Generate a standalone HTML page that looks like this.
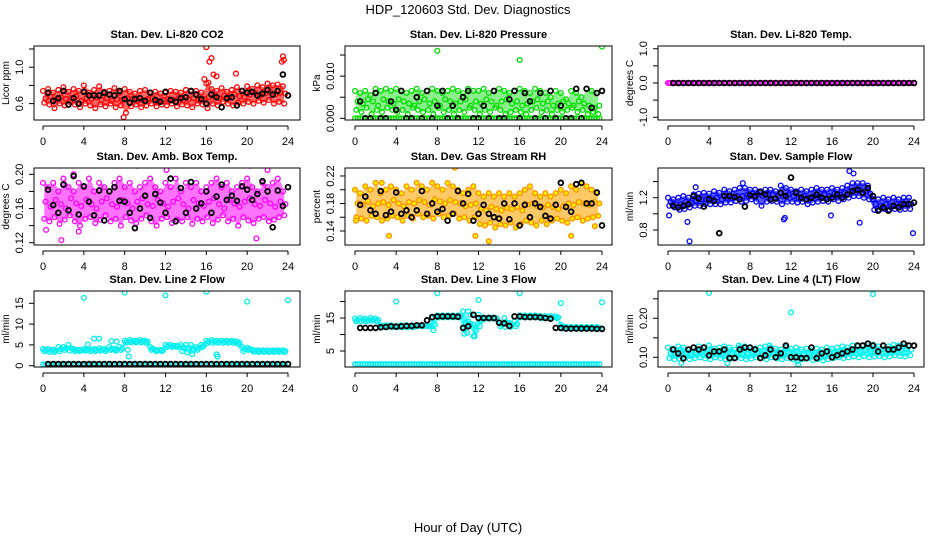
<!DOCTYPE html>
<html><head><meta charset="utf-8"><style>
html,body{margin:0;padding:0;background:#fff;}
svg{display:block;font-family:"Liberation Sans",sans-serif;}
</style></head><body>
<svg id="chart" width="936" height="540" viewBox="0 0 936 540">
<text x="468" y="14" text-anchor="middle" font-size="13">HDP_120603  Std. Dev. Diagnostics</text>
<text x="468" y="532" text-anchor="middle" font-size="13">Hour of Day (UTC)</text>
</svg>
<script>
const xTicks = [0,4,8,12,16,20,24];
const co2Hi = [0.74,0.76,0.72,0.75,0.78,0.73,0.76,0.74,0.80,0.72,0.75,0.79,0.73,0.74,0.77,0.72,0.76,0.73,0.71,0.74,0.75,0.72,0.73,0.71,0.72,0.74,0.73,0.72,0.75,0.73,0.74,0.72,0.82,0.76,0.74,0.77,0.73,0.75,0.78,0.74,0.79,0.76,0.80,0.78,0.82,0.80,0.81,0.79];
const co2Mid = [0.66,0.68,0.64,0.67,0.65,0.66,0.68,0.63,0.66,0.65,0.67,0.64,0.66,0.63,0.65,0.64,0.66,0.65,0.63,0.64,0.65,0.66,0.63,0.64,0.65,0.64,0.66,0.64,0.65,0.66,0.64,0.65,0.67,0.68,0.66,0.69,0.67,0.70,0.68,0.67,0.70,0.72,0.69,0.71,0.73,0.70,0.72,0.71];
const co2Lo = [0.61,0.59,0.55,0.60,0.58,0.62,0.59,0.56,0.60,0.58,0.55,0.59,0.57,0.60,0.56,0.58,0.50,0.57,0.59,0.56,0.58,0.60,0.57,0.59,0.58,0.60,0.57,0.59,0.58,0.56,0.60,0.59,0.55,0.60,0.58,0.62,0.60,0.58,0.61,0.60,0.62,0.60,0.63,0.61,0.64,0.60,0.62,0.60];
const co2OutT = [16,16.3,16.5,16.7,15.8,16.2,18.9,17.0,23.5,23.6,23.4,7.9];
const co2OutV = [1.22,1.06,1.10,0.92,0.87,0.83,0.93,0.90,1.12,1.08,1.06,0.45];
const co2Black = [0.72,0.63,0.66,0.74,0.59,0.66,0.60,0.73,0.69,0.69,0.69,0.72,0.70,0.69,0.74,0.65,0.61,0.65,0.66,0.63,0.72,0.64,0.62,0.73,0.64,0.62,0.66,0.67,0.74,0.70,0.65,0.60,0.70,0.67,0.56,0.66,0.67,0.58,0.74,0.72,0.73,0.69,0.71,0.75,0.70,0.74,0.92,0.69];

const presHi = [0.0065,0.0060,0.0065,0.0055,0.0070,0.0065,0.0070,0.0065,0.0070,0.0065,0.0060,0.0065,0.0070,0.0060,0.0065,0.0070,0.0065,0.0060,0.0065,0.0070,0.0065,0.0060,0.0070,0.0065,0.0065,0.0070,0.0060,0.0065,0.0070,0.0065,0.0060,0.0065,0.0070,0.0065,0.0060,0.0070,0.0065,0.0060,0.0050,0.0065,0.0060,0.0045,0.0065,0.0060,0.0050,0.0070,0.0065,0.0060];
const presMid = [0.0040,0.0035,0.0045,0.0040,0.0030,0.0045,0.0040,0.0035,0.0045,0.0040,0.0035,0.0030,0.0040,0.0045,0.0035,0.0040,0.0030,0.0045,0.0040,0.0035,0.0040,0.0045,0.0030,0.0040,0.0035,0.0045,0.0040,0.0030,0.0040,0.0045,0.0035,0.0040,0.0030,0.0035,0.0040,0.0045,0.0035,0.0040,0.0030,0.0035,0.0040,0.0035,0.0030,0.0040,0.0035,0.0030,0.0025,0.0030];
const presLo = [0.0020,0.0015,0.0025,0.0010,0.0020,0.0015,0.0025,0.0020,0.0015,0.0020,0.0010,0.0025,0.0020,0.0015,0.0020,0.0010,0.0025,0.0015,0.0020,0.0010,0.0020,0.0015,0.0025,0.0020,0.0010,0.0020,0.0015,0.0025,0.0020,0.0010,0.0015,0.0020,0.0015,0.0010,0.0020,0.0025,0.0015,0.0020,0.0010,0.0020,0.0015,0.0020,0.0025,0.0015,0.0020,0.0010,0.0015,0.0010];
const presBase = [0,0,0,0,0,0,0,0,0,0,0,0,0,0,0,0,0,0,0,0,0,0,0,0,0,0,0,0,0,0,0,0,0,0,0,0,0,0,0,0,0,0,0,0,0,0,0,0];
const presOutT = [8,16,24];
const presOutV = [0.0160,0.0138,0.0170];
const presBlack = [0.004,0,0,0.006,0,0,0.004,0.002,0.0065,0,0,0.005,0,0.0065,0,0.003,0.0065,0,0.003,0,0.005,0.0065,0,0,0.003,0,0.0065,0,0,0.0045,0.0065,0,0.006,0.004,0,0.006,0,0.0065,0,0.003,0,0,0.007,0,0.007,0.0025,0.006,0.0065];

const tempVals = [0,0,0,0,0,0,0,0,0,0,0,0,0,0,0,0,0,0,0,0,0,0,0,0,0,0,0,0,0,0,0,0,0,0,0,0,0,0,0,0,0,0,0,0,0,0,0,0];
const tempBlack = [0,0,0,0,0,0,0,0,0,0,0,0,0,0,0,0,0,0,0,0,0,0,0,0,0,0,0,0,0,0,0,0,0,0,0,0,0,0,0,0,0,0,0,0,0,0,0,0];

const ambHi = [0.19,0.185,0.19,0.18,0.195,0.185,0.18,0.19,0.185,0.195,0.18,0.19,0.185,0.18,0.19,0.195,0.185,0.19,0.18,0.185,0.19,0.195,0.185,0.18,0.19,0.185,0.195,0.18,0.19,0.185,0.19,0.18,0.185,0.19,0.195,0.185,0.19,0.18,0.185,0.19,0.195,0.185,0.18,0.19,0.185,0.19,0.195,0.18];
const ambMid = [0.168,0.162,0.17,0.165,0.16,0.172,0.166,0.163,0.17,0.165,0.16,0.168,0.172,0.165,0.162,0.17,0.166,0.16,0.168,0.172,0.165,0.163,0.17,0.166,0.162,0.168,0.172,0.165,0.16,0.17,0.166,0.163,0.168,0.172,0.165,0.16,0.17,0.166,0.162,0.168,0.172,0.165,0.163,0.17,0.166,0.162,0.168,0.165];
const ambLo = [0.148,0.145,0.15,0.142,0.147,0.152,0.145,0.14,0.148,0.15,0.143,0.147,0.152,0.145,0.148,0.14,0.15,0.146,0.143,0.148,0.152,0.145,0.14,0.148,0.15,0.143,0.147,0.145,0.15,0.142,0.148,0.145,0.15,0.143,0.147,0.152,0.145,0.148,0.14,0.15,0.146,0.143,0.148,0.15,0.145,0.147,0.15,0.152];
const ambOutT = [1.8,9.2,20.3,20.9,0.3,3.5,22.0,12.1,3.0];
const ambOutV = [0.123,0.210,0.210,0.125,0.135,0.133,0.205,0.205,0.200];
const ambBlack = [0.182,0.164,0.155,0.188,0.158,0.198,0.153,0.186,0.168,0.152,0.181,0.146,0.18,0.185,0.169,0.168,0.155,0.137,0.16,0.175,0.149,0.177,0.167,0.155,0.195,0.145,0.184,0.155,0.191,0.16,0.166,0.18,0.155,0.174,0.188,0.17,0.175,0.169,0.186,0.182,0.17,0.177,0.192,0.18,0.138,0.181,0.163,0.185];

const rhHi = [0.2,0.195,0.205,0.2,0.21,0.195,0.2,0.205,0.2,0.195,0.205,0.2,0.21,0.205,0.2,0.21,0.205,0.2,0.21,0.205,0.2,0.195,0.2,0.205,0.195,0.19,0.195,0.19,0.195,0.19,0.195,0.19,0.195,0.2,0.205,0.195,0.19,0.195,0.19,0.195,0.2,0.195,0.205,0.2,0.21,0.205,0.2,0.195];
const rhMid = [0.18,0.178,0.183,0.176,0.18,0.182,0.178,0.185,0.18,0.176,0.182,0.18,0.185,0.182,0.178,0.186,0.183,0.18,0.185,0.182,0.18,0.176,0.178,0.18,0.172,0.17,0.175,0.172,0.17,0.174,0.172,0.175,0.17,0.178,0.18,0.176,0.174,0.178,0.175,0.172,0.176,0.18,0.178,0.182,0.18,0.178,0.182,0.18];
const rhLo = [0.16,0.158,0.155,0.162,0.16,0.155,0.158,0.162,0.16,0.155,0.162,0.158,0.165,0.16,0.162,0.158,0.165,0.16,0.162,0.165,0.158,0.16,0.155,0.16,0.15,0.148,0.152,0.145,0.15,0.148,0.152,0.145,0.15,0.155,0.152,0.148,0.155,0.15,0.155,0.158,0.155,0.152,0.158,0.16,0.155,0.158,0.16,0.162];
const rhOutT = [9.7,13,3.3,11.7,21,0.1,2.6,23.3];
const rhOutV = [0.232,0.125,0.133,0.133,0.133,0.155,0.210,0.147];
const rhBlack = [0.178,0.19,0.17,0.165,0.198,0.163,0.168,0.196,0.165,0.17,0.16,0.17,0.198,0.165,0.18,0.168,0.172,0.155,0.165,0.198,0.18,0.194,0.155,0.165,0.178,0.165,0.16,0.158,0.18,0.157,0.18,0.148,0.178,0.16,0.18,0.175,0.162,0.158,0.178,0.21,0.175,0.168,0.208,0.21,0.18,0.18,0.196,0.148];

const sfHi = [1.2,1.18,1.2,1.22,1.2,1.24,1.25,1.26,1.25,1.28,1.26,1.3,1.28,1.3,1.32,1.32,1.3,1.3,1.28,1.3,1.3,1.28,1.35,1.32,1.3,1.28,1.3,1.28,1.3,1.32,1.3,1.3,1.32,1.3,1.32,1.35,1.38,1.38,1.38,1.35,1.18,1.18,1.2,1.18,1.2,1.18,1.2,1.2];
const sfMid = [1.15,1.12,1.12,1.15,1.14,1.16,1.18,1.18,1.18,1.2,1.18,1.2,1.2,1.22,1.22,1.24,1.25,1.24,1.22,1.24,1.24,1.22,1.22,1.24,1.22,1.2,1.22,1.2,1.22,1.22,1.24,1.22,1.25,1.24,1.26,1.28,1.3,1.3,1.28,1.25,1.12,1.1,1.12,1.1,1.12,1.12,1.12,1.12];
const sfLo = [1.1,1.08,1.05,1.06,1.08,1.1,1.1,1.12,1.12,1.12,1.12,1.14,1.14,1.16,1.15,1.16,1.18,1.15,1.1,1.15,1.16,1.15,1.12,1.15,1.15,1.14,1.15,1.12,1.14,1.15,1.16,1.15,1.18,1.16,1.18,1.2,1.22,1.22,1.2,1.18,1.05,1.05,1.06,1.05,1.06,1.05,1.06,1.06];
const sfOutT = [2.1,0.1,17.7,18.1,23.9,11.3,1.9,15.9,18.7,11.4,2.7,7.3];
const sfOutV = [0.66,0.98,1.53,1.50,0.76,0.93,0.90,0.98,0.89,0.95,1.33,1.38];
const sfBlack = [1.1,1.08,1.1,1.12,1.22,1.19,1.09,1.18,1.16,0.76,1.22,1.22,1.21,1.18,1.09,1.23,1.22,1.27,1.24,1.18,1.19,1.26,1.22,1.45,1.26,1.2,1.18,1.2,1.24,1.2,1.18,1.2,1.24,1.2,1.24,1.28,1.3,1.26,1.32,1.22,1.04,1.08,1.04,1.1,1.08,1.12,1.12,1.14];

const l2Hi = [4,4,3.8,4.5,4.5,5,4,3.8,4,4,4,4.2,4,4.5,4,4.5,6,6.2,6,6.2,6,4.5,3.8,3.8,5,5,4.8,5,5,5,4.5,5,6,6.2,6,6,6,6,5.8,4.5,4.3,3.8,3.7,3.7,3.7,3.7,3.7,3.7];
const l2Mid = [3.8,3.6,3.6,4,4.2,4.2,3.8,3.7,3.8,3.8,3.8,3.9,3.8,4.1,3.8,4.2,5.8,5.9,5.8,5.9,5.8,4.1,3.7,3.7,4.8,4.8,4.7,4.5,4.2,3.8,4.2,4.8,5.8,5.9,5.8,5.8,5.8,5.8,5.5,4,4,3.6,3.5,3.5,3.5,3.5,3.5,3.5];
const l2Lo = [3.5,3.3,3.3,3.5,3.8,3.6,3.5,3.5,3.6,3.5,3.5,3.6,3.5,3.8,3.6,3.8,5.5,5.6,5.6,5.6,5.5,3.8,3.5,3.5,4.5,4.5,4.5,3.5,3.2,2.8,3.8,4.5,5.5,5.5,5.5,5.5,5.5,5.5,5.2,3.5,3.8,3.4,3.3,3.3,3.3,3.3,3.3,3.3];
const l2Base = [0.3,0.3,0.3,0.3,0.3,0.3,0.3,0.3,0.3,0.3,0.3,0.3,0.3,0.3,0.3,0.3,0.3,0.3,0.3,0.3,0.3,0.3,0.3,0.3,0.3,0.3,0.3,0.3,0.3,0.3,0.3,0.3,0.3,0.3,0.3,0.3,0.3,0.3,0.3,0.3,0.3,0.3,0.3,0.3,0.3,0.3,0.3,0.3];
const l2OutT = [4,8,12,16,20,24,5,5.5,6.7,7.2,8.3,8.4,17,17.1,4.4];
const l2OutV = [16.3,17.6,16.9,17.8,15.4,15.7,6.5,6.5,5.9,5.8,3.8,2.2,2.7,2.2,5.1];
const l2Black = [0.4,0.4,0.4,0.4,0.4,0.4,0.4,0.4,0.4,0.4,0.4,0.4,0.4,0.4,0.4,0.4,0.4,0.4,0.4,0.4,0.4,0.4,0.4,0.4,0.4,0.4,0.4,0.4,0.4,0.4,0.4,0.4,0.4,0.4,0.4,0.4,0.4,0.4,0.4,0.4,0.4,0.4,0.4,0.4,0.4,0.4,0.4,0.4];

const l3Hi = [14.8,15,14.8,15,14.8,12.8,12.8,12.8,12.5,12.8,12.8,12.8,12.8,12.8,12.8,14.8,15.8,15.8,15.8,15.8,15.8,17,14,13,16,15.2,15.2,15.2,13.5,15,13.5,14,15.8,15.8,15.8,15.8,15.6,15.6,15.6,15.5,13,12.3,12.3,12.3,12.3,12.3,12.3,12.3];
const l3Mid = [14.4,14.5,14.4,14.6,14.4,12.5,12.5,12.5,12.4,12.5,12.5,12.5,12.6,12.6,12.6,13,15.5,15.5,15.5,15.5,15.5,13.6,13.2,11.2,14.2,15,15,15,13,13.6,12.9,13.2,15.5,15.5,15.5,15.5,15.3,15.3,15.3,15.2,12.4,12,12,12,12,12,12,12];
const l3Lo = [14,14,14,14.2,14,12.2,12.2,12.2,12.2,12.2,12.2,12.2,12.5,12.5,12.5,11.3,15.2,15.2,15.2,15.2,15.2,10.2,12.5,9.5,12.5,14.8,14.8,14.8,12.5,12.3,12.3,12.5,15.2,15.2,15.2,15.2,15,15,15,15,11.8,11.8,11.8,11.8,11.8,11.8,11.8,11.8];
const l3Base = [1,1,1,1,1,1,1,1,1,1,1,1,1,1,1,1,1,1,1,1,1,1,1,1,1,1,1,1,1,1,1,1,1,1,1,1,1,1,1,1,1,1,1,1,1,1,1,1];
const l3OutT = [4,8,12,16,20,24,11,11.2,11.5,10.9];
const l3OutV = [20,22.5,20.5,22.5,19.5,19.8,17,16,9.5,10.5];
const l3Black = [12,12,12,12,12.2,12.3,12.5,12.4,12.5,12.6,12.6,12.8,12.8,14.3,15.3,15.5,15.5,15.5,15.5,15.4,12,12.5,16,15,15,15,15,13.6,13.4,12.6,15.5,15.5,15.3,15.3,15.3,15.2,15,14.8,12,12,11.8,11.8,11.8,11.8,11.8,11.8,11.7,11.7];

const l4Hi = [0.125,0.122,0.128,0.125,0.12,0.125,0.128,0.125,0.13,0.122,0.125,0.128,0.125,0.12,0.125,0.128,0.125,0.122,0.125,0.128,0.125,0.122,0.12,0.125,0.122,0.125,0.12,0.122,0.118,0.122,0.12,0.125,0.122,0.125,0.128,0.125,0.13,0.128,0.13,0.128,0.132,0.128,0.13,0.128,0.132,0.13,0.128,0.13];
const l4Mid = [0.11,0.108,0.112,0.11,0.108,0.112,0.115,0.11,0.112,0.108,0.11,0.113,0.11,0.112,0.108,0.11,0.112,0.11,0.108,0.112,0.11,0.108,0.11,0.112,0.108,0.105,0.108,0.11,0.105,0.108,0.105,0.11,0.112,0.115,0.112,0.115,0.118,0.115,0.118,0.115,0.118,0.12,0.115,0.118,0.12,0.118,0.12,0.12];
const l4Lo = [0.098,0.095,0.097,0.1,0.095,0.098,0.1,0.097,0.095,0.1,0.098,0.095,0.097,0.1,0.098,0.095,0.097,0.1,0.098,0.095,0.1,0.097,0.095,0.098,0.095,0.09,0.095,0.097,0.093,0.095,0.092,0.095,0.098,0.1,0.098,0.1,0.102,0.1,0.103,0.1,0.102,0.103,0.1,0.102,0.105,0.103,0.102,0.105];
const l4OutT = [4,12,20,1.3,5.8,12.7,6.9,9.9];
const l4OutV = [0.265,0.215,0.262,0.085,0.085,0.082,0.13,0.13];
const l4Black = [0.12,0.11,0.097,0.12,0.125,0.12,0.125,0.105,0.115,0.115,0.12,0.098,0.098,0.12,0.125,0.125,0.12,0.098,0.105,0.12,0.1,0.11,0.13,0.1,0.1,0.098,0.098,0.125,0.098,0.11,0.115,0.1,0.105,0.11,0.115,0.12,0.13,0.13,0.135,0.13,0.115,0.13,0.12,0.12,0.125,0.135,0.13,0.13];

const NS = "http://www.w3.org/2000/svg";
const svg = document.getElementById('chart');
function mk(tag, attrs, parent){
  const e = document.createElementNS(NS, tag);
  for (const k in attrs) e.setAttribute(k, attrs[k]);
  (parent||svg).appendChild(e);
  return e;
}
const cols = [{l:34,r:300,x0:43,x24:288},{l:345,r:612,x0:355,x24:602},{l:658,r:924,x0:668,x24:914}];
const rows = [{t:46,b:120},{t:168,b:245},{t:291,b:367}];

const panels = [
 {slug:'co2',title:'Stan. Dev. Li-820 CO2',yt:'Licor ppm',c:0,r:0,dom:[0.42,1.233],ticks:[0.6,0.8,1.0,1.2],labs:['0.6','','1.0',''],col:'#ff0000',fill:'none',band:'#ff0000',op:0.6,hi:co2Hi,mid:co2Mid,lo:co2Lo,base:null,ot:co2OutT,ov:co2OutV,bk:co2Black},
 {slug:'pressure',title:'Stan. Dev. Li-820 Pressure',yt:'kPa',c:1,r:0,dom:[-0.0004,0.01714],ticks:[0,0.005,0.010,0.015],labs:['0.000','','0.010',''],col:'#00dd00',fill:'none',band:'#00dd00',op:0.45,hi:presHi,mid:presMid,lo:presLo,base:presBase,ot:presOutT,ov:presOutV,bk:presBlack},
 {slug:'temp',title:'Stan. Dev. Li-820 Temp.',yt:'degrees C',c:2,r:0,dom:[-1.08,1.08],ticks:[-1,-0.5,0,0.5,1],labs:['-1.0','','0.0','','1.0'],col:'#ff00ff',fill:'none',band:null,op:0,hi:tempVals,mid:tempVals,lo:tempVals,base:null,ot:[],ov:[],bk:tempBlack},
 {slug:'amb-temp',title:'Stan. Dev. Amb. Box Temp.',yt:'degrees C',c:0,r:1,dom:[0.1173,0.2074],ticks:[0.12,0.14,0.16,0.18,0.20],labs:['0.12','','0.16','','0.20'],col:'#ff00ff',fill:'none',band:'#ff00ff',op:0.55,hi:ambHi,mid:ambMid,lo:ambLo,base:null,ot:ambOutT,ov:ambOutV,bk:ambBlack},
 {slug:'rh',title:'Stan. Dev. Gas Stream RH',yt:'percent',c:1,r:1,dom:[0.1196,0.2316],ticks:[0.14,0.16,0.18,0.20,0.22],labs:['0.14','','0.18','','0.22'],col:'#ff9000',fill:'#ffee00',band:'#ffa500',op:0.6,hi:rhHi,mid:rhMid,lo:rhLo,base:null,ot:rhOutT,ov:rhOutV,bk:rhBlack},
 {slug:'sample-flow',title:'Stan. Dev. Sample Flow',yt:'ml/min',c:2,r:1,dom:[0.614,1.568],ticks:[0.8,1.0,1.2,1.4],labs:['0.8','','1.2',''],col:'#0000ff',fill:'none',band:'#0000ff',op:0.65,hi:sfHi,mid:sfMid,lo:sfLo,base:null,ot:sfOutT,ov:sfOutV,bk:sfBlack},
 {slug:'line2-flow',title:'Stan. Dev. Line 2 Flow',yt:'ml/min',c:0,r:2,dom:[-0.31,17.96],ticks:[0,5,10,15],labs:['0','5','10','15'],col:'#00eeee',fill:'none',band:'#00ffff',op:0.7,hi:l2Hi,mid:l2Mid,lo:l2Lo,base:l2Base,ot:l2OutT,ov:l2OutV,bk:l2Black},
 {slug:'line3-flow',title:'Stan. Dev. Line 3 Flow',yt:'ml/min',c:1,r:2,dom:[0.15,23.2],ticks:[5,10,15,20],labs:['5','','15',''],col:'#00eeee',fill:'none',band:'#00ffff',op:0.7,hi:l3Hi,mid:l3Mid,lo:l3Lo,base:l3Base,ot:l3OutT,ov:l3OutV,bk:l3Black},
 {slug:'line4-flow',title:'Stan. Dev. Line 4 (LT) Flow',yt:'ml/min',c:2,r:2,dom:[0.0751,0.27],ticks:[0.10,0.15,0.20,0.25],labs:['0.10','','0.20',''],col:'#00eeee',fill:'none',band:'#00ffff',op:0.7,hi:l4Hi,mid:l4Mid,lo:l4Lo,base:null,ot:l4OutT,ov:l4OutV,bk:l4Black}
];

panels.forEach(p=>{
  const C = cols[p.c], R = rows[p.r];
  const xs = h => C.x0 + (C.x24 - C.x0) * h / 24;
  const ys = v => R.b - (R.b - R.t) * (v - p.dom[0]) / (p.dom[1] - p.dom[0]);
  const g = mk('g', {});
  
  
  const tt = mk('text', {x:(C.l+C.r)/2, y:R.t-8, 'text-anchor':'middle', 'font-size':11, 'font-weight':'bold'}, g);
  tt.textContent = p.title;
  
  
  const clipId = 'clip-' + p.slug;
  const cp = mk('clipPath', {id:clipId}, g);
  mk('rect', {x:C.l, y:R.t, width:C.r-C.l, height:R.b-R.t}, cp);
  const plot = mk('g', {'clip-path':'url(#'+clipId+')'}, g);
  
  
  const n = p.hi.length;
  const tHi = i => i * 24 / n;
  const tMid = i => i * 24 / n + 12 / n;
  const tLo = i => i * 24 / n + 6 / n;
  if (p.band){
    let pts = [];
    for (let i=0;i<n;i++) pts.push(xs(tHi(i)+6/n)+','+ys(p.hi[i]));
    for (let i=n-1;i>=0;i--) pts.push(xs(tHi(i)+6/n)+','+ys(p.lo[i]));
    const band = mk('polygon', {points:pts.join(' '), fill:p.band, 'fill-opacity':p.op, stroke:'none'}, plot);
    
    
  }
  const dot = (t, v, color, fill, sw, name) => {
    const c = mk('circle', {cx:xs(t), cy:ys(v), r:2.4, fill:fill, stroke:color, 'stroke-width':sw}, plot);
    
    
  };
  for (let i=0;i<n;i++){
    dot(tHi(i), p.hi[i], p.col, p.fill, 1.3, p.slug+'-point');
    dot(tMid(i), p.mid[i], p.col, p.fill, 1.3, p.slug+'-point');
    dot(tLo(i), p.lo[i], p.col, p.fill, 1.3, p.slug+'-point');
    if (p.base){
      dot(tHi(i), p.base[i], p.col, p.fill, 1.3, p.slug+'-baseline-point');
      dot(tMid(i), p.base[i], p.col, p.fill, 1.3, p.slug+'-baseline-point');
    }
  }
  for (let i=0;i<p.ot.length;i++) dot(p.ot[i], p.ov[i], p.col, p.fill, 1.3, p.slug+'-outlier-point');
  for (let i=0;i<p.bk.length;i++) dot((i+1)*24/p.bk.length, p.bk[i], '#000', 'none', 1.8, p.slug+'-black-point');
  const box = mk('rect', {x:C.l, y:R.t, width:C.r-C.l, height:R.b-R.t, fill:'none', stroke:'#000', 'stroke-width':1}, g);
  
  
  const ax = mk('g', {}, g);
  
  
  const ay = R.b + 6;
  mk('line', {x1:xs(xTicks[0]), x2:xs(xTicks[xTicks.length-1]), y1:ay, y2:ay, stroke:'#000'}, ax);
  xTicks.forEach(h=>{
    mk('line', {x1:xs(h), x2:xs(h), y1:ay, y2:ay+4, stroke:'#000'}, ax);
    const tl = mk('text', {x:xs(h), y:ay+19, 'text-anchor':'middle', 'font-size':11}, ax);
    tl.textContent = h;
    
    
  });
  const yax = mk('g', {}, g);
  
  
  p.ticks.forEach((v,i)=>{
    const y = ys(v);
    mk('line', {x1:C.l-5, x2:C.l, y1:y, y2:y, stroke:'#000'}, yax);
    if (p.labs[i]){
      const tl = mk('text', {x:C.l-11, y:y, 'text-anchor':'middle', 'font-size':11, transform:'rotate(-90 '+(C.l-11)+' '+y+')'}, yax);
      tl.textContent = p.labs[i];
      
      
    }
  });
  const ym = (R.t+R.b)/2, yx = C.l-25;
  const ytt = mk('text', {x:yx, y:ym, 'text-anchor':'middle', 'font-size':10, transform:'rotate(-90 '+yx+' '+ym+')'}, g);
  ytt.textContent = p.yt;
  
  
});
</script>
</body></html>
